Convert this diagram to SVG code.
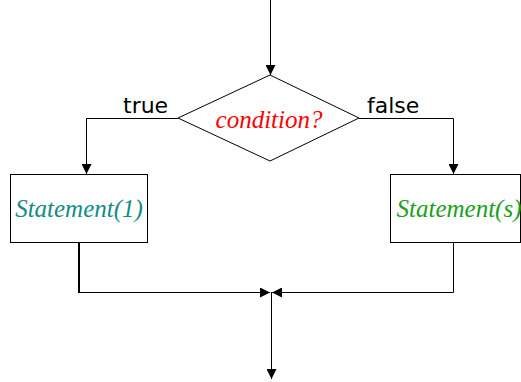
<svg xmlns="http://www.w3.org/2000/svg" width="521" height="382" viewBox="0 0 521 382">
  <defs>
    <marker id="arrow" viewBox="0 0 10 10" refX="10" refY="5" markerWidth="10" markerHeight="10" markerUnits="userSpaceOnUse" orient="auto">
      <path d="M0,0 L10,5 L0,10 Z" fill="#000"/>
    </marker>
    <style>
      .shape { fill: #fff; stroke: #000; stroke-width: 1; }
      .line { fill: none; stroke: #000; stroke-width: 1; }
      .stmt { font-family: "Liberation Serif", "Times New Roman", serif; font-style: italic; font-size: 25px; text-anchor: middle; }
      .label { font-family: "DejaVu Sans", Verdana, sans-serif; font-size: 22px; fill: #000; }
    </style>
  </defs>
  <rect width="521" height="382" fill="#fff"/>

  <g id="connectors">
    <line class="line" x1="270.5" y1="0" x2="270.5" y2="75" marker-end="url(#arrow)"/>
    <polyline class="line" points="178,118.5 86.5,118.5 86.5,174" marker-end="url(#arrow)"/>
    <polyline class="line" points="359,118.5 453.5,118.5 453.5,174" marker-end="url(#arrow)"/>
    <line x1="79" y1="242" x2="79" y2="293" stroke="#000" stroke-width="2"/>
    <polyline class="line" points="78,292.5 270,292.5" marker-end="url(#arrow)"/>
    <polyline class="line" points="453.5,242 453.5,292.5 272,292.5" marker-end="url(#arrow)"/>
    <line class="line" x1="271.5" y1="292" x2="271.5" y2="379" marker-end="url(#arrow)"/>
    <text class="label" x="123" y="113">true</text>
    <text class="label" x="367" y="113">false</text>
  </g>

  <g id="condition">
    <polygon class="shape" points="270,75 359,118 270,161 178,118"/>
    <text class="stmt" x="269" y="128" fill="#ff0000">condition?</text>
  </g>

  <g id="statement1">
    <rect class="shape" x="10.5" y="174.5" width="137" height="68"/>
    <text class="stmt" x="79" y="217" fill="#128c84">Statement(1)</text>
  </g>

  <g id="statements">
    <rect class="shape" x="390.5" y="174.5" width="130" height="68"/>
    <text class="stmt" x="459" y="217" fill="#1aa01a">Statement(s)</text>
  </g>
</svg>
